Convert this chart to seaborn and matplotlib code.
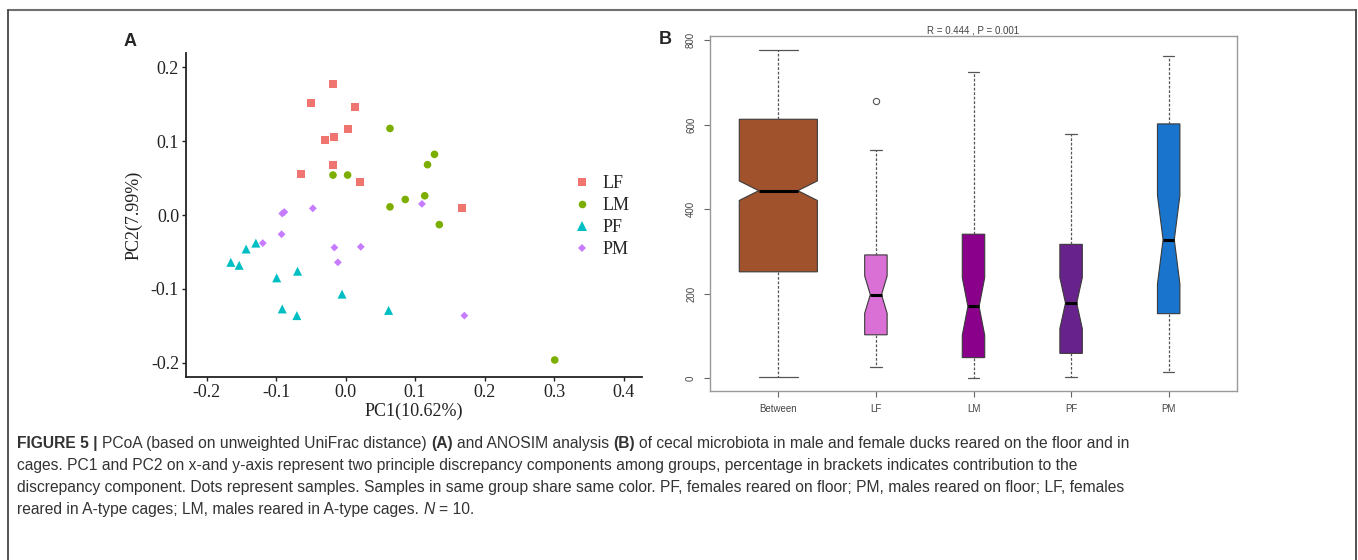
import numpy as np
import pandas as pd
import matplotlib
matplotlib.use("Agg")
import matplotlib.pyplot as plt
import matplotlib.font_manager as fm
from matplotlib.lines import Line2D
import seaborn as sns

# ---------------- data: panel A (PCoA scores) ----------------
groups = ["LF", "LM", "PF", "PM"]
lf_pc1 = [-0.018, -0.050, 0.014, 0.004, -0.030, -0.016, -0.018, -0.064, 0.021, 0.167]
lf_pc2 = [0.177, 0.152, 0.146, 0.116, 0.101, 0.105, 0.068, 0.056, 0.045, 0.009]
lm_pc1 = [0.064, 0.128, 0.118, -0.018, 0.003, 0.114, 0.086, 0.064, 0.135, 0.301]
lm_pc2 = [0.117, 0.082, 0.068, 0.054, 0.054, 0.026, 0.021, 0.011, -0.013, -0.196]
pf_pc1 = [-0.165, -0.153, -0.143, -0.129, -0.099, -0.069, -0.005, -0.091, -0.070, 0.062]
pf_pc2 = [-0.064, -0.068, -0.046, -0.038, -0.085, -0.076, -0.107, -0.127, -0.136, -0.129]
pm_pc1 = [-0.091, -0.088, -0.047, -0.092, -0.119, -0.016, 0.022, -0.011, 0.110, 0.171]
pm_pc2 = [0.002, 0.004, 0.009, -0.026, -0.038, -0.044, -0.043, -0.064, 0.015, -0.136]
xticks_a = [-0.2, -0.1, 0.0, 0.1, 0.2, 0.3, 0.4]
yticks_a = [-0.2, -0.1, 0.0, 0.1, 0.2]

# ---------------- data: panel B (ANOSIM rank distances) ----------------
box_groups = ["Between", "LF", "LM", "PF", "PM"]
whisker_low = [2, 26, 1, 4, 14]
quart1 = [252, 103, 49, 59, 153]
medians = [444, 198, 170, 178, 328]
quart3 = [613, 292, 341, 317, 602]
whisker_high = [778, 541, 724, 579, 763]
n_pairs = [600, 45, 45, 45, 45]
outliers = [[], [657], [], [], []]
yticks_b = [0, 200, 400, 600, 800]

# ---------------- style ----------------
W, H = 1358, 560
sns.set_style("ticks")
plt.rcParams["axes.unicode_minus"] = False
names = {f.name for f in fm.fontManager.ttflist}
serif = "Liberation Serif" if "Liberation Serif" in names else "DejaVu Serif"
cap_font = "Liberation Sans Narrow" if "Liberation Sans Narrow" in names else "Liberation Sans"

pal_a = {"LF": "#F07470", "LM": "#7CAE00", "PF": "#00BFC4", "PM": "#C77CFF"}
markers_a = {"LF": "s", "LM": "o", "PF": "^", "PM": "D"}
sizes_a = {"LF": 34, "LM": 30, "PF": 42, "PM": 16}
box_colors = {"Between": "#A0522D", "LF": "#DA70D6", "LM": "#8B008B",
              "PF": "#68228B", "PM": "#1874CD"}

fig = plt.figure(figsize=(W / 100, H / 100), dpi=100)

# ================= Panel A =================
axA = fig.add_axes([186 / W, 1 - 377 / H, (642 - 186) / W, (377 - 53) / H])
dfa = pd.DataFrame({
    "PC1": lf_pc1 + lm_pc1 + pf_pc1 + pm_pc1,
    "PC2": lf_pc2 + lm_pc2 + pf_pc2 + pm_pc2,
    "group": sum([[g] * 10 for g in groups], []),
})
sns.scatterplot(data=dfa, x="PC1", y="PC2", hue="group", style="group", size="group",
                hue_order=groups, style_order=groups, size_order=groups,
                palette=pal_a, markers=markers_a, sizes=sizes_a,
                linewidth=0, legend=False, ax=axA)
axA.set_xlim(-0.2295, 0.4266)
axA.set_ylim(-0.219, 0.219)
axA.set_xticks(xticks_a)
axA.set_yticks(yticks_a)
axA.set_xticklabels([f"{v:.1f}" for v in xticks_a])
axA.set_yticklabels([f"{v:.1f}" for v in yticks_a])
for lab in axA.get_xticklabels() + axA.get_yticklabels():
    lab.set_fontfamily(serif)
    lab.set_fontsize(13)
    lab.set_color("#222222")
axA.tick_params(length=3, width=1, color="#222222", pad=2)
for s in ["top", "right"]:
    axA.spines[s].set_visible(False)
for s in ["left", "bottom"]:
    axA.spines[s].set_color("#222222")
    axA.spines[s].set_linewidth(1.3)
axA.set_xlabel("PC1(10.62%)", fontfamily=serif, fontsize=13, color="#222222", labelpad=1)
axA.set_ylabel("PC2(7.99%)", fontfamily=serif, fontsize=13, color="#222222", labelpad=6)

handles = [Line2D([], [], linestyle="none", marker=markers_a[g], color=pal_a[g],
                  markersize=np.sqrt(sizes_a[g]), markeredgewidth=0) for g in groups]
axA.legend(handles, groups, loc="upper left", bbox_to_anchor=(573 / W, 1 - 175 / H),
           bbox_transform=fig.transFigure, frameon=False, borderpad=0, borderaxespad=0,
           handlelength=1.0, handletextpad=0.65, labelspacing=0.28,
           prop={"family": serif, "size": 13})

fig.text(124 / W, 1 - 42 / H, "A", fontsize=13, fontweight="bold",
         family="Liberation Sans", va="center", ha="left")

# ================= Panel B =================
axB = fig.add_axes([710 / W, 1 - 391 / H, (1237 - 710) / W, (391 - 36) / H])
rows = []
for g, lo, q1, md, q3, hi, n, fl in zip(box_groups, whisker_low, quart1, medians,
                                         quart3, whisker_high, n_pairs, outliers):
    c = int(np.ceil(0.25 * (n - 1)))
    vals = np.repeat([lo, q1, md, q3, hi], [1, c, c, c, n - 1 - 3 * c - len(fl)])
    vals = np.concatenate([vals, fl])
    rows.append(pd.DataFrame({"group": g, "rank": vals}))
dfb = pd.concat(rows, ignore_index=True)

common = dict(x="group", y="rank", order=box_groups, hue="group", hue_order=box_groups,
              palette=box_colors, saturation=1, notch=True, legend=False,
              linecolor="#3a3a3a", linewidth=0.8, fliersize=4.5, ax=axB,
              whiskerprops=dict(linestyle=(0, (2.2, 1.4)), color="#555555", linewidth=0.9),
              capprops=dict(color="#555555", linewidth=0.9),
              medianprops=dict(color="black", linewidth=2.2),
              flierprops=dict(marker="o", markerfacecolor="none",
                              markeredgecolor="#555555", markeredgewidth=0.8))
sns.boxplot(data=dfb[dfb["group"] == "Between"], width=0.8, **common)
sns.boxplot(data=dfb[dfb["group"] != "Between"], width=0.23, **common)

axB.set_xlim(-0.7, 4.7)
axB.set_ylim(-30, 810)
axB.set_yticks(yticks_b)
axB.set_yticklabels([str(v) for v in yticks_b], rotation=90, va="center")
axB.set_xlabel("")
axB.set_ylabel("")
axB.tick_params(axis="both", labelsize=7, labelcolor="#444444", color="#666666",
                length=4, width=0.8)
axB.tick_params(axis="y", pad=6)
axB.tick_params(axis="x", pad=5)
for lab in axB.get_xticklabels() + axB.get_yticklabels():
    lab.set_fontfamily("Liberation Sans")
for s in axB.spines.values():
    s.set_color("#999999")
    s.set_linewidth(1.0)
axB.set_title("R = 0.444 , P = 0.001", fontsize=7, color="#444444", pad=1.5,
              family="Liberation Sans")

fig.text(659 / W, 1 - 40 / H, "B", fontsize=13, fontweight="bold",
         family="Liberation Sans", va="center", ha="left")

# ================= frame =================
fc = "#707070"
fig.add_artist(Line2D([8 / W, 1356 / W], [1 - 10 / H, 1 - 10 / H], transform=fig.transFigure,
                      color=fc, lw=1.5))
fig.add_artist(Line2D([8 / W, 8 / W], [1 - 10 / H, 0], transform=fig.transFigure,
                      color="#444444", lw=1.3))
fig.add_artist(Line2D([1356 / W, 1356 / W], [1 - 10 / H, 0], transform=fig.transFigure,
                      color="#444444", lw=1.3))

# ================= caption =================
caption_lines = [
    [("FIGURE 5 |", "bold", "normal"),
     (" PCoA (based on unweighted UniFrac distance) ", "normal", "normal"),
     ("(A)", "bold", "normal"), (" and ANOSIM analysis ", "normal", "normal"),
     ("(B)", "bold", "normal"),
     (" of cecal microbiota in male and female ducks reared on the floor and in", "normal", "normal")],
    [("cages. PC1 and PC2 on x-and y-axis represent two principle discrepancy components "
      "among groups, percentage in brackets indicates contribution to the", "normal", "normal")],
    [("discrepancy component. Dots represent samples. Samples in same group share same color. "
      "PF, females reared on floor; PM, males reared on floor; LF, females", "normal", "normal")],
    [("reared in A-type cages; LM, males reared in A-type cages. ", "normal", "normal"),
     ("N", "normal", "italic"), (" = 10.", "normal", "normal")],
]
renderer = fig.canvas.get_renderer()


def text_width(s, **kw):
    t = fig.text(0, 0, s, **kw)
    w = t.get_window_extent(renderer).width
    t.remove()
    return w


def draw_line(x, y, segs, size, draw=True):
    for txt, weight, style in segs:
        kw = dict(fontsize=size, fontweight=weight, fontstyle=style, family=cap_font,
                  color="#333333")
        sp = text_width("a a", **kw) - text_width("aa", **kw)
        core = txt.strip(" ")
        x += (len(txt) - len(txt.lstrip(" "))) * sp
        if draw:
            t = fig.text(x / W, 1 - y / H, core, ha="left", va="baseline", **kw)
            x += t.get_window_extent(renderer).width
        else:
            x += text_width(core, **kw)
        x += (len(txt) - len(txt.rstrip(" "))) * sp
    return x


base = 12.0
w1 = draw_line(0, 0, caption_lines[0], base, draw=False)
cap_size = base * 1120.0 / w1
for i, segs in enumerate(caption_lines):
    draw_line(17, 448 + 22 * i, segs, cap_size)

fig.savefig("out.png", dpi=100)
